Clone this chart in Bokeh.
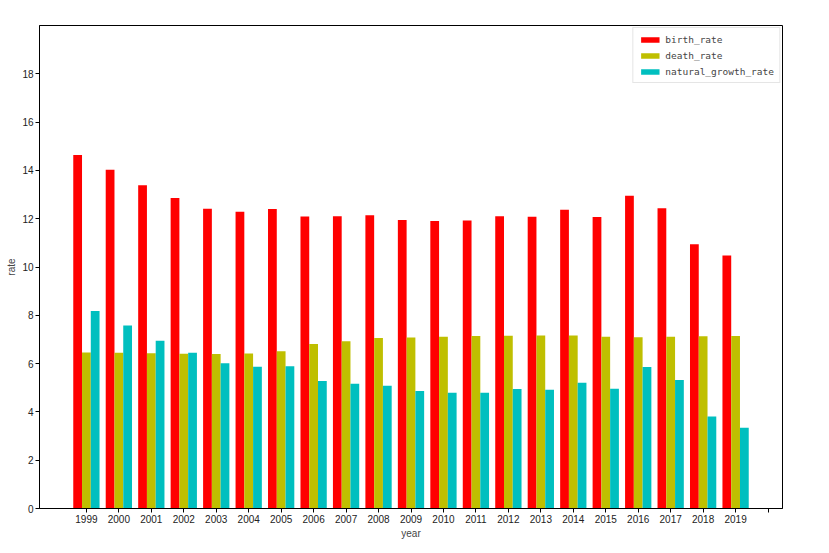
from bokeh.plotting import figure
from bokeh.models import FixedTicker, Range1d, ColumnDataSource
from bokeh.transform import dodge
from bokeh.embed import file_html
from bokeh.resources import INLINE

years = [1999, 2000, 2001, 2002, 2003, 2004, 2005, 2006, 2007, 2008, 2009,
         2010, 2011, 2012, 2013, 2014, 2015, 2016, 2017, 2018, 2019]
birth_rate = [14.64, 14.03, 13.38, 12.86, 12.41, 12.29, 12.40, 12.09, 12.10, 12.14, 11.95,
              11.90, 11.93, 12.10, 12.08, 12.37, 12.07, 12.95, 12.43, 10.94, 10.48]
death_rate = [6.46, 6.45, 6.43, 6.41, 6.40, 6.42, 6.51, 6.81, 6.93, 7.06, 7.08,
              7.11, 7.14, 7.15, 7.16, 7.16, 7.11, 7.09, 7.11, 7.13, 7.14]
natural_growth_rate = [8.18, 7.58, 6.95, 6.45, 6.01, 5.87, 5.89, 5.28, 5.17, 5.08, 4.87,
                       4.79, 4.79, 4.95, 4.92, 5.21, 4.96, 5.86, 5.32, 3.81, 3.34]
y_ticks = [0, 2, 4, 6, 8, 10, 12, 14, 16, 18]

idx = list(range(len(years)))
tick_positions = list(range(len(years) + 1))
tick_labels = [str(y) for y in years] + [""]

source = ColumnDataSource(dict(idx=idx, birth_rate=birth_rate, death_rate=death_rate,
                               natural_growth_rate=natural_growth_rate))

W = 0.27
p = figure(width=808, height=545, output_backend="svg", toolbar_location=None,
           x_range=Range1d(-1.445, 21.445), y_range=Range1d(0, 20),
           min_border_left=39, min_border_right=26, min_border_top=25, min_border_bottom=37,
           background_fill_color="white", border_fill_color="white")

p.vbar(x=dodge('idx', -W, range=p.x_range), top='birth_rate', width=W, source=source,
       color="#ff0000", line_color=None, legend_label="birth_rate")
p.vbar(x=dodge('idx', 0, range=p.x_range), top='death_rate', width=W, source=source,
       color="#bfbf00", line_color=None, legend_label="death_rate")
p.vbar(x=dodge('idx', W, range=p.x_range), top='natural_growth_rate', width=W, source=source,
       color="#00bfbf", line_color=None, legend_label="natural_growth_rate")

p.xgrid.visible = False
p.ygrid.visible = False
p.outline_line_color = "black"
p.outline_line_width = 1

p.xaxis.ticker = FixedTicker(ticks=tick_positions)
p.xaxis.major_label_overrides = {i: lab for i, lab in zip(tick_positions, tick_labels)}
p.yaxis.ticker = FixedTicker(ticks=y_ticks)

for ax in (p.xaxis[0], p.yaxis[0]):
    ax.minor_tick_line_color = None
    ax.major_tick_in = 0
    ax.major_tick_out = 4
    ax.major_tick_line_color = "black"
    ax.axis_line_color = "black"
    ax.major_label_text_font = "Liberation Sans"
    ax.major_label_text_font_size = "10px"
    ax.major_label_text_color = "#222222"
    ax.major_label_standoff = 2
    ax.axis_label_text_font = "Liberation Sans"
    ax.axis_label_text_font_size = "10px"
    ax.axis_label_text_font_style = "normal"
    ax.axis_label_standoff = 2

p.xaxis.axis_label = "year"
p.yaxis.axis_label = "rate"

lg = p.legend[0]
lg.location = "top_right"
lg.margin = 2
lg.padding = 5
lg.spacing = 4
lg.glyph_width = 23
lg.glyph_height = 7
lg.label_height = 12
lg.label_standoff = 4
lg.label_text_font = "DejaVu Sans Mono"
lg.label_text_font_size = "9.5px"
lg.border_line_color = "#cccccc"
lg.border_line_width = 1
lg.background_fill_color = "white"
lg.background_fill_alpha = 0.8

open("out.html", "w").write(file_html(p, INLINE))
